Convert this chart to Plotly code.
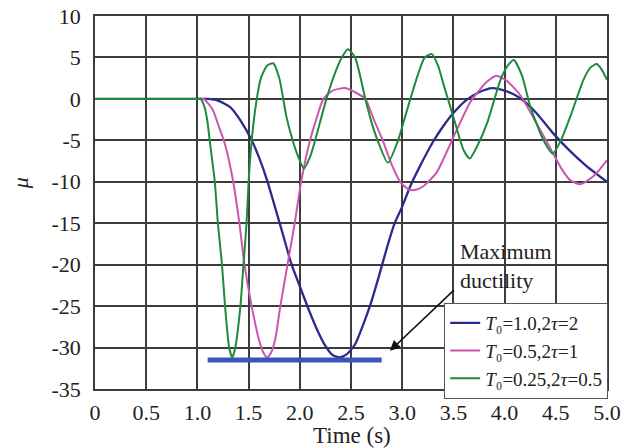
import plotly.graph_objects as go

# ---- data ----
t_blue = [0, 1.0, 1.1, 1.2, 1.32, 1.42, 1.53, 1.6, 1.68, 1.78, 1.85, 1.92, 2.0, 2.08, 2.16, 2.25, 2.32, 2.39,
          2.46, 2.54, 2.62, 2.69, 2.77, 2.85, 2.92, 3.0, 3.08, 3.17, 3.3, 3.4, 3.5, 3.62, 3.75, 3.88, 4.0,
          4.15, 4.31, 4.47, 4.64, 4.8, 5.0]
mu_blue = [0, 0, 0, -0.2, -1.0, -2.6, -5, -7, -9.8, -14, -17, -20, -22.6, -25.2, -27.6, -29.8, -30.9, -31.2,
           -30.8, -29.6, -27.2, -24.8, -21.5, -18, -15.2, -13, -10.5, -8.2, -5.2, -3.3, -1.7, -0.2, 0.8, 1.3, 1.0,
           0.1, -1.7, -4.1, -6.3, -8.1, -10]

t_pink = [0, 1.0, 1.06, 1.15, 1.2, 1.27, 1.35, 1.41, 1.46, 1.53, 1.6, 1.64, 1.68, 1.72, 1.76, 1.81, 1.88,
          1.95, 2.02, 2.1, 2.16, 2.23, 2.32, 2.44, 2.54, 2.64, 2.72, 2.81, 2.9, 2.98, 3.06, 3.12, 3.2, 3.27,
          3.34, 3.42, 3.5, 3.58, 3.66, 3.75, 3.83, 3.92, 4.02, 4.15, 4.31, 4.47, 4.56, 4.64, 4.74, 4.86, 4.93, 5.0]
mu_pink = [0, 0, 0, -1.3, -3, -5.5, -10, -15, -20, -25, -29, -30.5, -31.2, -30.6, -29, -25, -20,
           -15, -9.5, -5, -2.5, 0, 1.0, 1.3, 0.8, 0, -2.4, -5, -8, -10, -10.9, -11, -10.6, -9.8,
           -8.8, -6.8, -4.6, -2.5, -0.5, 1.0, 2.1, 2.8, 2.2, 0.5, -2.9, -6.5, -8.5, -9.8, -10.3, -9.4, -8.5, -7.4]

t_green = [0, 1.0, 1.03, 1.07, 1.1, 1.12, 1.17, 1.2, 1.24, 1.27, 1.31, 1.34, 1.37, 1.42, 1.45, 1.48, 1.5,
           1.53, 1.58, 1.62, 1.68, 1.74, 1.8, 1.87, 1.93, 1.97, 2.04, 2.1, 2.15, 2.26, 2.34, 2.41, 2.47,
           2.54, 2.64, 2.7, 2.76, 2.86, 2.96, 3.02, 3.08, 3.15, 3.22, 3.29, 3.35, 3.4, 3.5, 3.6, 3.66,
           3.74, 3.83, 3.96, 4.03, 4.09, 4.17, 4.25, 4.38, 4.47, 4.55, 4.64, 4.77, 4.84, 4.9, 4.95, 5.0]
mu_green = [0, 0, 0, -1, -2.9, -5, -10, -15, -20, -25, -30, -31.2, -30, -25, -20, -15, -10,
            -5, 0, 2.5, 4.0, 4.3, 2.5, -2.2, -5, -6.5, -8.4, -7, -5, 0, 3, 5, 6,
            5, 0, -2.8, -5, -7.7, -5, -2.5, 0, 2.8, 5, 5.4, 4, 1.9, -2.2, -6.2, -7.2,
            -5.5, -2.9, 2.3, 4.0, 4.7, 2.8, -0.9, -5, -6.6, -5, -2.2, 2.3, 3.8, 4.2, 3.5, 2.3]

bar_t = [1.1, 2.8]
bar_mu = [-31.5, -31.5]

names = ["<i>T</i>₀=1.0,2<i>τ</i>=2",
         "<i>T</i>₀=0.5,2<i>τ</i>=1",
         "<i>T</i>₀=0.25,2<i>τ</i>=0.5"]

x_ticks = [0, 0.5, 1.0, 1.5, 2.0, 2.5, 3.0, 3.5, 4.0, 4.5, 5.0]
x_ticktext = ["0", "0.5", "1.0", "1.5", "2.0", "2.5", "3.0", "3.5", "4.0", "4.5", "5.0"]
y_ticks = [10, 5, 0, -5, -10, -15, -20, -25, -30, -35]
y_ticktext = ["10", "5", "0", "-5", "-10", "-15", "-20", "-25", "-30", "-35"]

FONT = "Liberation Serif"
TXT = "#222222"

fig = go.Figure()
series = [(t_blue, mu_blue, "#2b2b8c", 2.3),
          (t_pink, mu_pink, "#cc55b0", 2.0),
          (t_green, mu_green, "#1e8a3c", 2.0)]
for (tx, my, col, w), nm in zip(series, names):
    fig.add_trace(go.Scatter(x=tx, y=my, mode="lines", name=nm,
                             line=dict(color=col, width=w, shape="spline", smoothing=0.6)))

fig.add_trace(go.Scatter(x=bar_t, y=bar_mu, mode="lines", showlegend=False,
                         line=dict(color="#3a55b8", width=5)))

grid = "#3c3c3c"
fig.update_xaxes(range=[0, 5], tickvals=x_ticks, ticktext=x_ticktext, showgrid=True,
                 gridcolor=grid, gridwidth=1.5, zeroline=False, showline=True, linecolor=grid,
                 linewidth=1.5, mirror=True, ticks="", ticklabelstandoff=3, automargin=False,
                 ticklabeloverflow="allow",
                 tickfont=dict(family=FONT, size=22, color=TXT))
fig.update_yaxes(range=[-35, 10], tickvals=y_ticks, ticktext=y_ticktext, showgrid=True,
                 gridcolor=grid, gridwidth=1.5, zeroline=False, showline=True, linecolor=grid,
                 linewidth=1.5, mirror=True, ticks="", ticklabelstandoff=8, automargin=False,
                 ticklabeloverflow="allow",
                 tickfont=dict(family=FONT, size=22, color=TXT))

fig.add_annotation(text="Time (s)", xref="paper", yref="paper", x=0.502, y=-0.126,
                   showarrow=False, font=dict(family=FONT, size=23, color=TXT),
                   xanchor="center", yanchor="middle")
fig.add_annotation(text="<i>μ</i>", xref="paper", yref="paper", x=-0.146, y=0.552,
                   showarrow=False, textangle=-90, font=dict(family=FONT, size=22, color=TXT),
                   xanchor="center", yanchor="middle")
fig.add_annotation(text="Maximum<br>ductility", xref="x", yref="y", x=3.545, y=-20.1,
                   showarrow=False, align="left", xanchor="left", yanchor="middle",
                   font=dict(family=FONT, size=22, color=TXT))
fig.add_annotation(text="", xref="x", yref="y", x=2.88, y=-30.4, axref="x", ayref="y",
                   ax=3.52, ay=-22.9, showarrow=True, arrowhead=2, arrowsize=1.3,
                   arrowwidth=1.6, arrowcolor="#111")

# the page body adds an 8px offset, so the figure is 8px smaller with margins shifted accordingly
fig.update_layout(width=622, height=440, margin=dict(l=87, r=23, t=8, b=59),
                  plot_bgcolor="white", paper_bgcolor="white",
                  legend=dict(x=0.682, y=0.2306, xanchor="left", yanchor="top",
                              bgcolor="white", bordercolor="#555", borderwidth=1,
                              font=dict(family=FONT, size=19, color=TXT),
                              itemwidth=30, tracegroupgap=0))

fig.write_html("out.html")
